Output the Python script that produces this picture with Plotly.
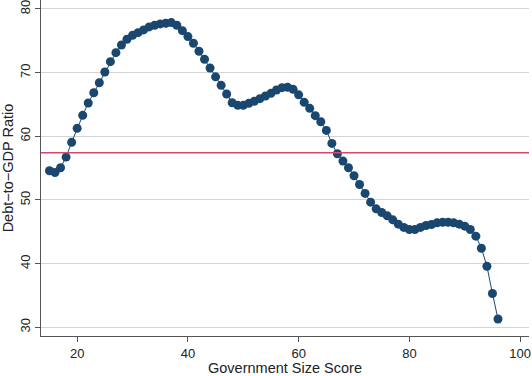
import plotly.graph_objects as go

gov_size = list(range(15, 97))
debt_ratio = [
    54.58, 54.30, 55.05, 56.73, 59.04, 61.24, 63.28, 65.22, 66.84, 68.41,
    70.09, 71.72, 73.13, 74.34, 75.23, 75.85, 76.27, 76.70, 77.17, 77.43,
    77.64, 77.75, 77.85, 77.43, 76.59, 75.65, 74.60, 73.35, 72.09, 70.72,
    69.33, 68.00, 66.64, 65.27, 64.86, 64.86, 65.17, 65.49, 65.90, 66.32,
    66.74, 67.26, 67.63, 67.69, 67.37, 66.50, 65.33, 64.39, 63.23, 62.28,
    60.92, 58.88, 57.25, 56.10, 55.05, 53.79, 52.43, 51.02, 49.65, 48.60,
    48.03, 47.50, 46.87, 46.20, 45.68, 45.36, 45.36, 45.68, 45.99, 46.15,
    46.40, 46.50, 46.50, 46.40, 46.20, 45.88, 45.36, 44.31, 42.42, 39.59,
    35.30, 31.30,
]
ref_line = 57.4

x_ticks = [20, 40, 60, 80, 100]
y_ticks = [30, 40, 50, 60, 70, 80]

navy = "#1a476f"
fam = "Liberation Sans, Arial, sans-serif"
tick_font = dict(family=fam, size=13, color="#222")
title_font = dict(family=fam, size=14.5, color="#222")

fig = go.Figure()
fig.add_trace(go.Scatter(
    x=gov_size, y=debt_ratio, mode="lines+markers",
    line=dict(color=navy, width=1),
    marker=dict(color=navy, size=9),
    showlegend=False,
))
fig.add_hline(y=ref_line, line=dict(color="#d5496c", width=1.5), layer="above")

fig.update_layout(
    width=532, height=376,
    margin=dict(l=41, r=3, t=0, b=40),
    paper_bgcolor="white", plot_bgcolor="white",
    font=tick_font,
    xaxis=dict(
        range=[13.47, 101.6], tickvals=x_ticks, showgrid=False, zeroline=False,
        showline=True, linecolor="#555", linewidth=1,
        ticks="outside", ticklen=5, tickcolor="#555",
        title=dict(text="Government Size Score", standoff=1, font=title_font),
        tickfont=tick_font, ticklabeloverflow="allow",
    ),
    yaxis=dict(
        range=[28.63, 81.4], tickvals=y_ticks, showgrid=True, gridcolor="#d4d4d4",
        gridwidth=1, zeroline=False,
        showline=True, linecolor="#555", linewidth=1,
        ticks="outside", ticklen=5, tickcolor="#555", tickangle=-90,
        title=dict(text="Debt\u2212to\u2212GDP Ratio", standoff=3, font=title_font),
        tickfont=tick_font, ticklabeloverflow="allow",
    ),
)

fig.write_html("out.html")
